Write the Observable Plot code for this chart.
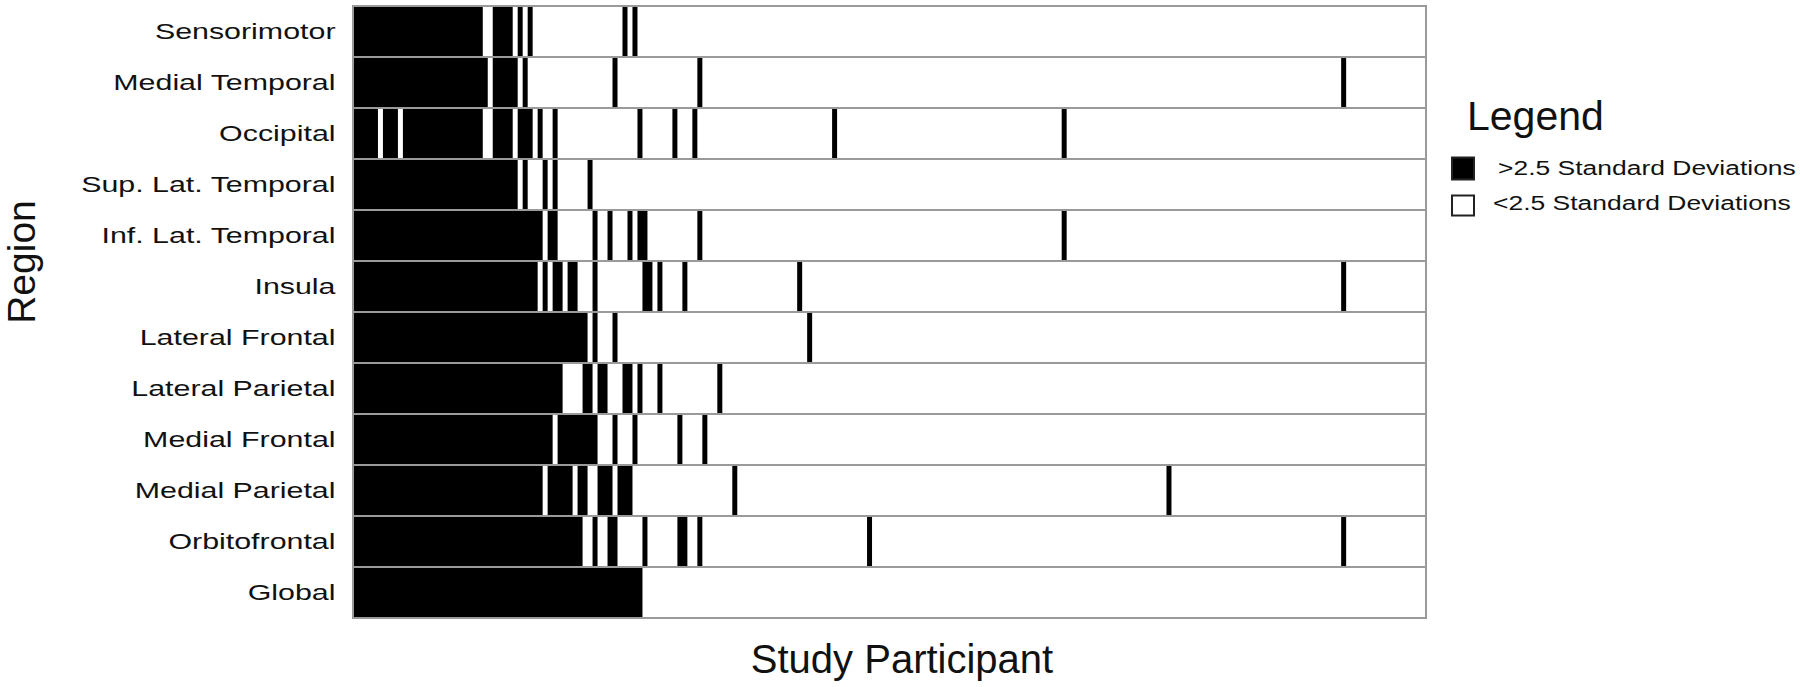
<!DOCTYPE html>
<html>
<head>
<meta charset="utf-8">
<script src="https://cdn.jsdelivr.net/npm/d3@7"></script>
<script src="https://cdn.jsdelivr.net/npm/@observablehq/plot@0.6"></script>
<style>
  html, body { margin: 0; padding: 0; background: #fff; }
  #wrap { position: relative; width: 1800px; height: 687px; font-family: "Liberation Sans", Arial, sans-serif; }
  #legend { position: absolute; left: 1440px; top: 80px; }
  #ytitle { position: absolute; left: 0; top: 0; }
</style>
</head>
<body>
<div id="wrap"></div>
<script>
// ---- Data -------------------------------------------------------------
const regions = ["Sensorimotor", "Medial Temporal", "Occipital", "Sup. Lat. Temporal", "Inf. Lat. Temporal",
  "Insula", "Lateral Frontal", "Lateral Parietal", "Medial Frontal", "Medial Parietal", "Orbitofrontal", "Global"];
const participantCount = 215;
// participant index ranges [start, end) with values > 2.5 SD
const sensorimotorRuns     = [[0,26],[28,32],[33,34],[35,36],[54,55],[56,57]];
const medialTemporalRuns   = [[0,27],[28,33],[34,35],[52,53],[69,70],[198,199]];
const occipitalRuns        = [[0,5],[6,9],[10,26],[28,32],[33,36],[37,38],[40,41],[57,58],[64,65],[68,69],[96,97],[142,143]];
const supLatTemporalRuns   = [[0,33],[34,35],[38,39],[40,41],[47,48]];
const infLatTemporalRuns   = [[0,38],[39,41],[48,49],[51,52],[55,56],[57,59],[69,70],[142,143]];
const insulaRuns           = [[0,37],[38,39],[40,42],[43,45],[48,49],[58,60],[61,62],[66,67],[89,90],[198,199]];
const lateralFrontalRuns   = [[0,47],[48,49],[52,53],[91,92]];
const lateralParietalRuns  = [[0,42],[46,48],[49,51],[54,56],[57,58],[61,62],[73,74]];
const medialFrontalRuns    = [[0,40],[41,49],[52,53],[56,57],[65,66],[70,71]];
const medialParietalRuns   = [[0,38],[39,44],[45,47],[49,52],[53,56],[76,77],[163,164]];
const orbitofrontalRuns    = [[0,46],[48,49],[51,53],[58,59],[65,67],[69,70],[103,104],[198,199]];
const globalRuns           = [[0,58]];
const legendLabels = [">2.5 Standard Deviations", "<2.5 Standard Deviations"];
const legendFills = ["black", "white"];
const titles = {x: "Study Participant", y: "Region", legend: "Legend"};

// ---- Build table ------------------------------------------------------
const runsByRegion = [sensorimotorRuns, medialTemporalRuns, occipitalRuns, supLatTemporalRuns, infLatTemporalRuns,
  insulaRuns, lateralFrontalRuns, lateralParietalRuns, medialFrontalRuns, medialParietalRuns, orbitofrontalRuns, globalRuns];
const cells = regions.flatMap((r, i) => runsByRegion[i].map(([s, e]) => ({region: r, start: s, end: e})));
const rows = regions.map(r => ({region: r, start: 0, end: participantCount}));

const font = "'Liberation Sans', Arial, Helvetica, sans-serif";
const chart = Plot.plot({
  width: 1800,
  height: 687,
  marginLeft: 353,
  marginRight: 374,
  marginTop: 3,
  marginBottom: 67,
  style: {fontFamily: font, fontSize: "22px", color: "#111", background: "white"},
  x: {domain: [0, participantCount], axis: null},
  y: {domain: regions, padding: 0, label: null, tickSize: 0, tickPadding: 18},
  marks: [
    Plot.barX(rows, {x1: "start", x2: "end", y: "region", fill: "white"}),
    Plot.barX(cells, {x1: "start", x2: "end", y: "region", fill: "black"}),
    Plot.barX(rows, {x1: "start", x2: "end", y: "region", fill: "none", stroke: "#9a9a9a", strokeWidth: 2}),
    Plot.text([titles.x], {frameAnchor: "bottom", dx: 12, dy: 52, fontSize: 40, fill: "#111"})
  ]
});
document.getElementById("wrap").append(chart);

// horizontally widen the tick labels as in the reference
chart.querySelectorAll('g[aria-label="y-axis tick label"] text, g[aria-label="y-axis"] .tick text').forEach(t => {
  const L = t.getComputedTextLength();
  if (L > 0) { t.setAttribute("textLength", (L * 1.38).toFixed(1)); t.setAttribute("lengthAdjust", "spacingAndGlyphs"); }
});

// ---- Y title ----------------------------------------------------------
d3.select("#wrap").append("svg").attr("id", "ytitle").attr("width", 60).attr("height", 687)
  .append("text").attr("transform", "translate(35,262) rotate(-90)")
  .attr("text-anchor", "middle").attr("font-family", font).attr("font-size", 39).attr("fill", "#111")
  .text(titles.y);

// ---- Legend -----------------------------------------------------------
const lg = d3.select("#wrap").append("svg").attr("id", "legend")
  .attr("width", 360).attr("height", 160).style("font-family", font);
lg.append("text").attr("x", 27).attr("y", 50).attr("font-size", 41).attr("fill", "#111").text(titles.legend);
const items = lg.selectAll("g.item").data(legendLabels).join("g").attr("class", "item");
items.append("rect")
  .attr("x", 12).attr("y", (d, i) => i === 0 ? 77.5 : 115.5)
  .attr("width", 22).attr("height", (d, i) => i === 0 ? 22 : 20)
  .attr("fill", (d, i) => legendFills[i]).attr("stroke", "#222").attr("stroke-width", 2);
items.append("text")
  .attr("x", (d, i) => i === 0 ? 58 : 53).attr("y", (d, i) => i === 0 ? 95 : 130)
  .attr("font-size", 19.6).attr("fill", "#111").text(d => d)
  .each(function() {
    const L = this.getComputedTextLength();
    if (L > 0) { this.setAttribute("textLength", (L * 1.35).toFixed(1)); this.setAttribute("lengthAdjust", "spacingAndGlyphs"); }
  });
</script>
</body>
</html>
